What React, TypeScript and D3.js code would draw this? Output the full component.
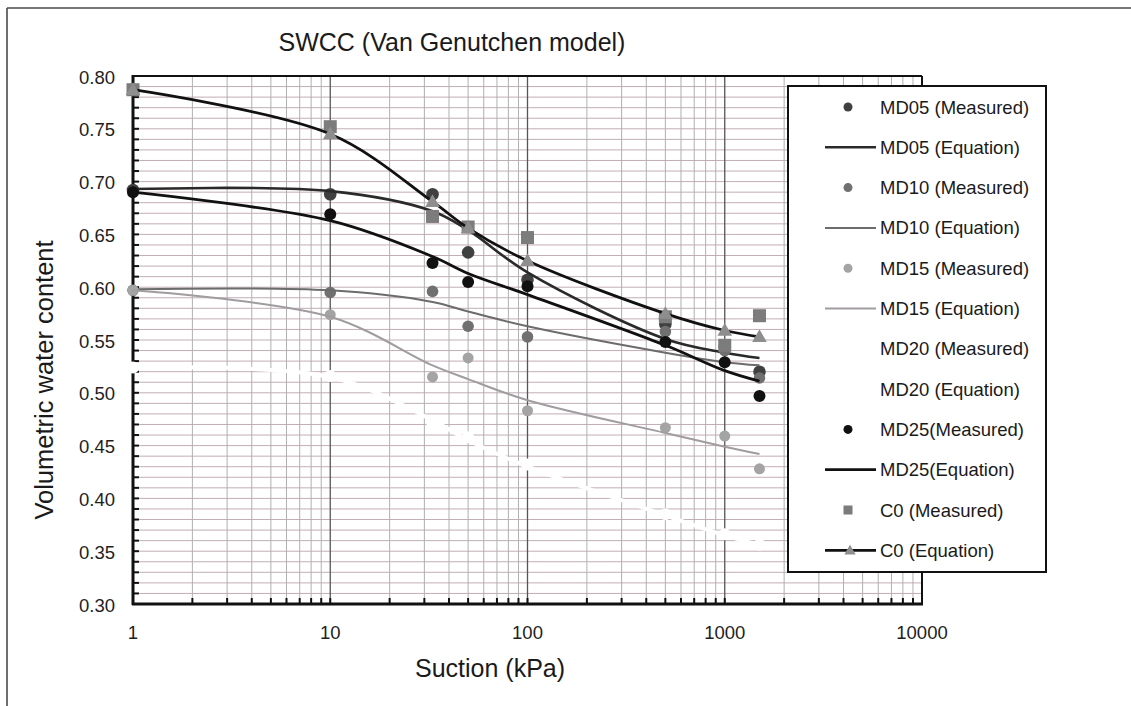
import React from "react";
import * as d3 from "d3";

const suction = [1, 10, 33, 50, 100, 500, 1000, 1500];
const md05Measured = [0.692, 0.688, 0.688, 0.633, 0.607, 0.565, 0.544, 0.52];
const md05Equation = [0.693, 0.691, 0.672, 0.654, 0.614, 0.551, 0.538, 0.533];
const md10Measured = [0.597, 0.595, 0.596, 0.563, 0.553, 0.558, 0.54, 0.514];
const md10Equation = [0.598, 0.597, 0.586, 0.577, 0.563, 0.538, 0.529, 0.526];
const md15Measured = [0.597, 0.574, 0.515, 0.533, 0.483, 0.467, 0.459, 0.428];
const md15Equation = [0.597, 0.572, 0.526, 0.513, 0.493, 0.462, 0.449, 0.442];
const md20Measured = [0.524, 0.516, 0.47, 0.458, 0.432, 0.385, 0.366, 0.356];
const md20Equation = [0.524, 0.515, 0.474, 0.455, 0.43, 0.384, 0.365, 0.356];
const md25Measured = [0.69, 0.669, 0.623, 0.605, 0.601, 0.548, 0.529, 0.497];
const md25Equation = [0.69, 0.663, 0.629, 0.613, 0.593, 0.545, 0.521, 0.511];
const c0Measured = [0.787, 0.752, 0.667, 0.657, 0.647, 0.572, 0.545, 0.573];
const c0Equation = [0.787, 0.745, 0.681, 0.656, 0.625, 0.575, 0.559, 0.553];

const yTicks = [0.3, 0.35, 0.4, 0.45, 0.5, 0.55, 0.6, 0.65, 0.7, 0.75, 0.8];
const xTicks = [1, 10, 100, 1000, 10000];
const legendLabels = [
  "MD05 (Measured)",
  "MD05 (Equation)",
  "MD10 (Measured)",
  "MD10 (Equation)",
  "MD15 (Measured)",
  "MD15 (Equation)",
  "MD20 (Measured)",
  "MD20 (Equation)",
  "MD25(Measured)",
  "MD25(Equation)",
  "C0 (Measured)",
  "C0 (Equation)",
];

const FONT = "'Liberation Sans', Arial, sans-serif";

type Series = {
  kind: "measured" | "equation";
  values: number[];
  color: string;
  width?: number;
  marker?: "circle" | "square" | "triangle" | "none";
  r?: number;
  mcolor?: string;
};

const series: Series[] = [
  { kind: "measured", values: md05Measured, color: "#404040", marker: "circle", r: 6.3 },
  { kind: "equation", values: md05Equation, color: "#2a2a2a", width: 2.6, marker: "none" },
  { kind: "measured", values: md10Measured, color: "#707070", marker: "circle", r: 5.8 },
  { kind: "equation", values: md10Equation, color: "#6c6c6c", width: 2, marker: "none" },
  { kind: "measured", values: md15Measured, color: "#a4a4a4", marker: "circle", r: 5.5 },
  { kind: "equation", values: md15Equation, color: "#a09ca0", width: 2, marker: "none" },
  { kind: "measured", values: md20Measured, color: "#ffffff", marker: "circle", r: 6 },
  { kind: "equation", values: md20Equation, color: "#ffffff", width: 4, marker: "none" },
  { kind: "measured", values: md25Measured, color: "#111111", marker: "circle", r: 6 },
  { kind: "equation", values: md25Equation, color: "#111111", width: 2.8, marker: "none" },
  { kind: "measured", values: c0Measured, color: "#7c7c7c", marker: "square", r: 6.5 },
  { kind: "equation", values: c0Equation, color: "#111111", width: 2.8, marker: "triangle", r: 6.5, mcolor: "#8e8e8e" },
];

const W = 1131;
const H = 706;
const x = d3.scaleLog().domain([1, 10000]).range([133, 922]);
const y = d3.scaleLinear().domain([0.3, 0.8]).range([604, 76]);

function marker(type: string, cx: number, cy: number, r: number, fill: string, key: string) {
  if (type === "circle") return <circle key={key} cx={cx} cy={cy} r={r} fill={fill} />;
  if (type === "square")
    return <rect key={key} x={cx - r} y={cy - r} width={2 * r} height={2 * r} fill={fill} />;
  if (type === "triangle") {
    const p = d3.symbol().type(d3.symbolTriangle).size(r * r * 2.2)();
    return <path key={key} d={p || ""} transform={`translate(${cx},${cy + 1})`} fill={fill} />;
  }
  return null;
}

export default function App() {
  const line = d3
    .line<number>()
    .x((_, i) => x(suction[i]))
    .y((v) => y(v))
    .curve(d3.curveCatmullRom.alpha(0.5));

  const minorX: number[] = [];
  for (let dec = 1; dec < 10000; dec *= 10) {
    for (let k = 2; k <= 9; k++) minorX.push(dec * k);
  }
  const minorY: number[] = d3.range(31, 80).map((v) => v / 100);

  const legendX = 788;
  const legendY = 86;
  const legendW = 258;
  const legendH = 486;
  const rowY = (i: number) => 107 + i * 40.3;

  return (
    <svg
      width={W}
      height={H}
      viewBox={`0 0 ${W} ${H}`}
      style={{ position: "absolute", left: 0, top: 0, background: "#fff" }}
      fontFamily={FONT}
    >
      <rect x={0} y={0} width={W} height={H} fill="#ffffff" />
      <line x1={7} y1={8} x2={W} y2={8} stroke="#4a4a4a" strokeWidth={1.6} />
      <line x1={7} y1={8} x2={7} y2={H} stroke="#4a4a4a" strokeWidth={1.6} />

      <text x={452} y={42} fontSize={25} fill="#1a1a1a" textAnchor="middle" dominantBaseline="central">
        SWCC (Van Genutchen model)
      </text>

      <g>
        {minorY.map((v) => (
          <line key={"hy" + v} x1={133} x2={922} y1={y(v)} y2={y(v)} stroke="#c2adb7" strokeWidth={1} />
        ))}
        {minorX.map((v) => (
          <line key={"vx" + v} x1={x(v)} x2={x(v)} y1={76} y2={604} stroke="#b0b0b0" strokeWidth={1} />
        ))}
        {[10, 100, 1000].map((v) => (
          <line key={"vm" + v} x1={x(v)} x2={x(v)} y1={76} y2={604} stroke="#555" strokeWidth={1.3} />
        ))}
      </g>

      <g>
        <line x1={133} x2={922} y1={76} y2={76} stroke="#111" strokeWidth={2} />
        <line x1={922} x2={922} y1={76} y2={604} stroke="#111" strokeWidth={2} />
        <line x1={133} x2={133} y1={75} y2={605} stroke="#111" strokeWidth={3} />
        <line x1={132} x2={923} y1={604} y2={604} stroke="#111" strokeWidth={3} />
        {minorY.map((v) => (
          <line key={"ty" + v} x1={133} x2={139} y1={y(v)} y2={y(v)} stroke="#111" strokeWidth={2} />
        ))}
        {minorX.concat([10, 100, 1000]).map((v) => (
          <line key={"tx" + v} x1={x(v)} x2={x(v)} y1={604} y2={598} stroke="#111" strokeWidth={2} />
        ))}
      </g>

      {yTicks.map((v) => (
        <text key={"yl" + v} x={115} y={y(v) + 1} fontSize={18.5} fill="#1e1e1e" textAnchor="end" dominantBaseline="central">
          {v.toFixed(2)}
        </text>
      ))}
      {xTicks.map((v) => (
        <text key={"xl" + v} x={x(v)} y={632} fontSize={18.5} fill="#1e1e1e" textAnchor="middle" dominantBaseline="central">
          {v}
        </text>
      ))}

      <text x={490} y={668} fontSize={25} fill="#1a1a1a" textAnchor="middle" dominantBaseline="central">
        Suction (kPa)
      </text>
      <text
        transform={`translate(44,380) rotate(-90)`}
        fontSize={25.5}
        fill="#1a1a1a"
        textAnchor="middle"
        dominantBaseline="central"
      >
        Volumetric water content
      </text>

      <g>
        {series.map((s, si) => (
          <g key={"s" + si}>
            {s.kind === "equation" && (
              <path d={line(s.values) || ""} fill="none" stroke={s.color} strokeWidth={s.width} strokeLinejoin="round" />
            )}
            {s.marker !== "none" &&
              s.values.map((v, i) =>
                marker(s.marker as string, x(suction[i]), y(v), s.r || 6, s.mcolor || s.color, `m${si}-${i}`)
              )}
          </g>
        ))}
      </g>

      <g>
        <rect x={legendX} y={legendY} width={legendW} height={legendH} fill="#fff" stroke="#111" strokeWidth={2} />
        {legendLabels.map((lab, i) => {
          const s = series[i];
          const cy = rowY(i);
          return (
            <g key={"lg" + i}>
              {s.kind === "equation" && (
                <line x1={825} x2={876} y1={cy} y2={cy} stroke={s.color} strokeWidth={s.width} />
              )}
              {s.marker !== "none" &&
                marker(
                  s.marker as string,
                  s.kind === "equation" ? 850 : 848,
                  cy,
                  s.kind === "equation" ? 5 : 4.5,
                  s.mcolor || s.color,
                  "lm" + i
                )}
              <text x={880} y={cy} fontSize={18.5} fill="#1a1a1a" dominantBaseline="central">
                {lab}
              </text>
            </g>
          );
        })}
      </g>
    </svg>
  );
}
